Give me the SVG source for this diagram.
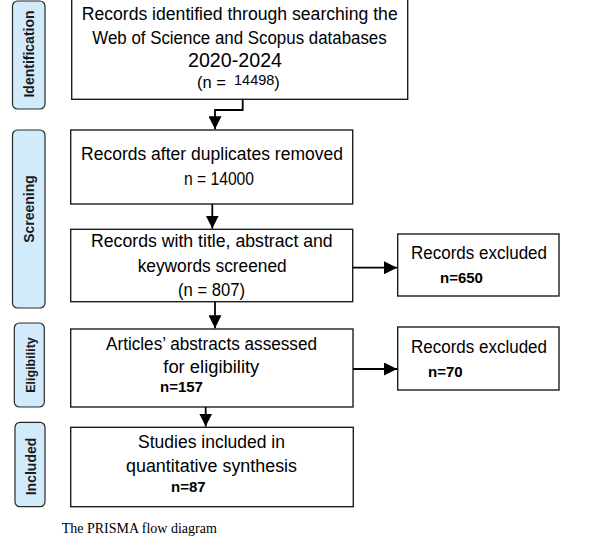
<svg xmlns="http://www.w3.org/2000/svg" width="607" height="545" viewBox="0 0 607 545">
<style>
  .bg { fill: #ffffff; }
  .box { fill: #ffffff; stroke: #1e1e1e; stroke-width: 1.4; }
  .pill { fill: #d1ebfb; stroke: #2a2a2a; stroke-width: 1.2; }
  .t { font-family: "Liberation Sans", Arial, sans-serif; font-size: 17.5px; fill: #000; }
  .ta { font-family: "Liberation Sans", Arial, sans-serif; fill: #000; }
  .b { font-family: "Liberation Sans", Arial, sans-serif; font-size: 15px; font-weight: bold; fill: #000; }
  .side { font-family: "Liberation Sans", Arial, sans-serif; font-size: 14px; font-weight: bold; fill: #1a1a1a; text-anchor: middle; }
  .conn { fill: none; stroke: #000; stroke-width: 1.8; }
  .cap { font-family: "Liberation Serif", "Times New Roman", serif; font-size: 14px; fill: #000; }
</style>
<defs>
  <marker id="arr" markerUnits="userSpaceOnUse" markerWidth="13" markerHeight="13" viewBox="0 0 12 12" refX="12" refY="6" orient="auto">
    <path d="M0,0 L12,6 L0,12 Z" fill="#000"/>
  </marker>
</defs>
<rect class="bg" x="0" y="0" width="607" height="545"/>

<g id="stage-identification">
  <rect class="pill" x="12.5" y="1" width="32.5" height="108" rx="5"/>
  <text class="side" transform="translate(33.5,54) rotate(-90)">Identification</text>
</g>
<g id="stage-screening">
  <rect class="pill" x="12.5" y="130" width="32.5" height="178" rx="5"/>
  <text class="side" transform="translate(33.5,209) rotate(-90)">Screening</text>
</g>
<g id="stage-eligibility">
  <rect class="pill" x="14.3" y="323" width="30" height="84" rx="5"/>
  <text class="side" style="font-size:12.5px" transform="translate(34.5,365) rotate(-90)">Eligibility</text>
</g>
<g id="stage-included">
  <rect class="pill" x="15" y="422.3" width="30" height="84.4" rx="5"/>
  <text class="side" transform="translate(36,466.5) rotate(-90)">Included</text>
</g>

<g id="n-identified">
  <rect class="box" x="71.7" y="-2" width="336" height="101.3"/>
  <text class="t" x="81.7" y="20" textLength="316" lengthAdjust="spacingAndGlyphs">Records identified through searching the</text>
  <text class="t" x="92.3" y="44.3" textLength="294.4" lengthAdjust="spacingAndGlyphs">Web of Science and Scopus databases</text>
  <text class="ta" x="188" y="66.7" style="font-size:19.5px" textLength="94" lengthAdjust="spacingAndGlyphs">2020-2024</text>
  <text class="ta" x="197" y="88" style="font-size:16.5px">(n = <tspan x="234" dy="-3" style="font-size:14.5px">14498</tspan><tspan dy="3">)</tspan></text>
</g>

<g id="n-dedup">
  <rect class="box" x="70.7" y="130" width="282" height="74"/>
  <text class="t" x="81" y="160" textLength="262" lengthAdjust="spacingAndGlyphs">Records after duplicates removed</text>
  <text class="t" x="184" y="185" textLength="70" lengthAdjust="spacingAndGlyphs">n = 14000</text>
</g>

<g id="n-screened">
  <rect class="box" x="70.7" y="229.3" width="282" height="72.4"/>
  <text class="t" x="91" y="246.7" textLength="241.7" lengthAdjust="spacingAndGlyphs">Records with title, abstract and</text>
  <text class="t" x="137.7" y="271.7" textLength="149" lengthAdjust="spacingAndGlyphs">keywords screened</text>
  <text class="t" x="178" y="296" textLength="67" lengthAdjust="spacingAndGlyphs">(n = 807)</text>
</g>

<g id="n-excluded1">
  <rect class="box" x="397.7" y="234" width="161.3" height="62"/>
  <text class="t" x="411" y="259" textLength="136" lengthAdjust="spacingAndGlyphs">Records excluded</text>
  <text class="b" x="440" y="282.7">n=650</text>
</g>

<g id="n-eligibility">
  <rect class="box" x="70.7" y="329" width="282.3" height="78"/>
  <text class="t" x="106" y="350" textLength="211" lengthAdjust="spacingAndGlyphs">Articles’ abstracts assessed</text>
  <text class="t" x="163.3" y="373" textLength="96" lengthAdjust="spacingAndGlyphs">for eligibility</text>
  <text class="b" x="160" y="392">n=157</text>
</g>

<g id="n-excluded2">
  <rect class="box" x="397.7" y="327" width="161.3" height="63"/>
  <text class="t" x="411" y="353" textLength="136" lengthAdjust="spacingAndGlyphs">Records excluded</text>
  <text class="b" x="428" y="377">n=70</text>
</g>

<g id="n-included">
  <rect class="box" x="70.7" y="427.3" width="282.6" height="79.4"/>
  <text class="t" x="138" y="448.3" textLength="147" lengthAdjust="spacingAndGlyphs">Studies included in</text>
  <text class="t" x="126" y="471.7" textLength="171" lengthAdjust="spacingAndGlyphs">quantitative synthesis</text>
  <text class="b" x="171" y="491.7">n=87</text>
</g>

<g id="connectors">
  <polyline class="conn" points="242.7,99.3 242.7,110 215,110 215,129.3" marker-end="url(#arr)"/>
  <line class="conn" x1="212.3" y1="204" x2="212.3" y2="228.6" marker-end="url(#arr)"/>
  <line class="conn" x1="215" y1="301.7" x2="215" y2="328.3" marker-end="url(#arr)"/>
  <line class="conn" x1="205.7" y1="407" x2="205.7" y2="426.6" marker-end="url(#arr)"/>
  <line class="conn" x1="353" y1="267.7" x2="397" y2="267.7" marker-end="url(#arr)"/>
  <line class="conn" x1="353" y1="369" x2="397" y2="369" marker-end="url(#arr)"/>
</g>

<text class="cap" x="61.7" y="533.3">The PRISMA flow diagram</text>
</svg>
